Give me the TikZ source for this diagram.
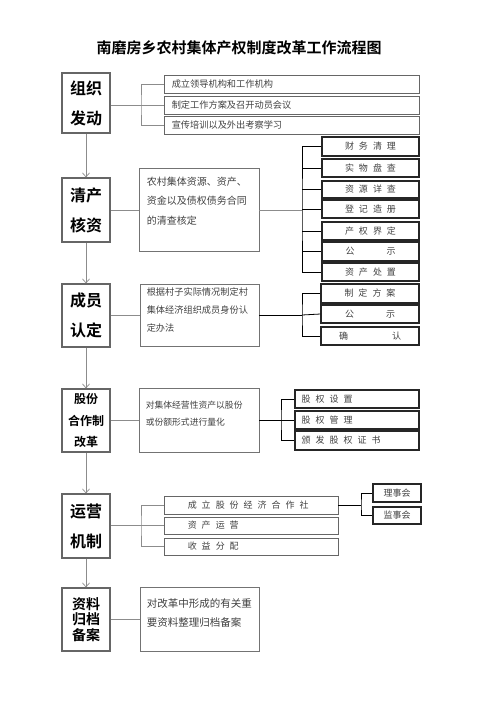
\documentclass[tikz,border=0pt]{standalone}
\usepackage{fontspec}
\setmainfont{Noto Sans CJK SC}[BoldFont={Noto Sans CJK SC Bold}]
\usetikzlibrary{arrows.meta}
\newcommand\chgap[1][5]{\hspace{#1pt}}
\newcommand\bx[6]{\node[#1, minimum width={(#4-#2)*1pt}, minimum height={(#5-#3)*1pt}] (#6) at ({(#2+#4)/2},{(#3+#5)/2})}
\begin{document}
\begin{tikzpicture}[x=1pt,y=-1pt,
  gline/.style={draw=black!45, line width=0.7pt},
  kline/.style={draw=black, line width=0.8pt},
  arr/.style={gline, -{Straight Barb[length=4pt,width=7pt]}},
  lbox/.style={draw=black!60, line width=1.1pt, fill=white, inner sep=0pt, align=center, font=\bfseries\fontsize{16}{30}\selectfont},
  mbox/.style={draw=black!55, line width=0.9pt, inner sep=0pt},
  tbox/.style={draw=black!60, line width=0.9pt, inner sep=0pt},
  rbox/.style={draw=black!85, line width=1.1pt, inner sep=0pt, font=\fontsize{9}{9}\selectfont, text=black!75},
  ttext/.style={anchor=west, inner sep=0pt, text=black!75, font=\fontsize{9.2}{9.2}\selectfont},
  mtext/.style={anchor=north west, inner sep=0pt, align=left, text=black!75}
]
\useasboundingbox (0,0) rectangle (496,702);

% title
\node[font=\bfseries\fontsize{15}{15}\selectfont] (title) at (239,48) {南磨房乡农村集体产权制度改革工作流程图};

% ---- section 1
\bx{lbox}{62}{73}{110}{133}{L1} {组织\\发动};
\bx{tbox,label={[ttext,xshift=8pt]west:成立领导机构和工作机构}}{164}{75}{419}{93}{R11} {};
\bx{tbox,label={[ttext,xshift=8pt]west:制定工作方案及召开动员会议}}{164}{96}{419}{114}{R12} {};
\bx{tbox,label={[ttext,xshift=8pt]west:宣传培训以及外出考察学习}}{164}{116}{419}{134}{R13} {};
\coordinate (j1) at (141,105);
\draw[gline] (L1.east |- j1) -- (j1);
\draw[gline] (R11.west) -| (j1) |- (R13.west);
\draw[gline] (j1) -- (R12.west);

% ---- section 2
\bx{lbox}{62}{178}{110}{242}{L2} {清产\\核资};
\bx{mbox,label={[mtext,xshift=8pt,yshift=-9pt,font=\fontsize{10}{19.5}\selectfont]north west:农村集体资源、资产、\\资金以及债权债务合同\\的清查核定}}{139}{168}{259}{251}{M2} {};
\bx{rbox}{322}{137}{419}{156}{R21} {财\chgap 务\chgap 清\chgap 理};
\bx{rbox}{322}{159}{419}{177}{R22} {实\chgap 物\chgap 盘\chgap 查};
\bx{rbox}{322}{181}{419}{198}{R23} {资\chgap 源\chgap 详\chgap 查};
\bx{rbox}{322}{200}{419}{218}{R24} {登\chgap 记\chgap 造\chgap 册};
\bx{rbox}{322}{222}{419}{240}{R25} {产\chgap 权\chgap 界\chgap 定};
\bx{rbox}{322}{242}{419}{261}{R26} {公\chgap[32]示};
\bx{rbox}{322}{263}{419}{281}{R27} {资\chgap 产\chgap 处\chgap 置};
\draw[gline] (L2.east) -- (L2.east -| M2.west);
\coordinate (j2) at (302,210);
\draw[gline] (M2.east |- j2) -- (j2);
\draw[kline] (R21.west) -| (j2) |- (R27.west);
\foreach \n in {2,...,6} \draw[kline] (R2\n.west -| j2) -- (R2\n.west);

% ---- section 3
\bx{lbox}{62}{284}{110}{347}{L3} {成员\\认定};
\bx{mbox,label={[mtext,xshift=7pt,yshift=-4pt,font=\fontsize{9.2}{18}\selectfont]north west:根据村子实际情况制定村\\集体经济组织成员身份认\\定办法}}{140}{284}{259}{346}{M3} {};
\bx{rbox}{321}{284}{419}{303}{R31} {制\chgap 定\chgap 方\chgap 案};
\bx{rbox}{321}{305}{419}{323}{R32} {公\chgap[32]示};
\bx{rbox}{321}{327}{419}{345}{R33} {确\chgap[44]认};
\draw[gline] (L3.east) -- (L3.east -| M3.west);
\coordinate (j3) at (302,315);
\draw[kline] (M3.east |- j3) -- (j3);
\draw[kline] (R31.west) -| (j3) |- (R33.west);
\draw[kline] (j3) -- (R32.west);

% ---- section 4
\bx{lbox,font=\bfseries\fontsize{12}{21.5}\selectfont}{62}{389}{110}{452}{L4} {股份\\合作制\\改革};
\bx{mbox,label={[mtext,xshift=7pt,yshift=-13pt,font=\fontsize{8.8}{17}\selectfont]north west:对集体经营性资产以股份\\或份额形式进行量化}}{139}{388}{259}{452}{M4} {};
\bx{rbox,label={[ttext,xshift=7pt,font=\fontsize{9}{9}\selectfont]west:股\chgap 权\chgap 设\chgap 置}}{295}{390}{419}{408}{R41} {};
\bx{rbox,label={[ttext,xshift=7pt,font=\fontsize{9}{9}\selectfont]west:股\chgap 权\chgap 管\chgap 理}}{295}{411}{419}{429}{R42} {};
\bx{rbox,label={[ttext,xshift=7pt,font=\fontsize{9}{9}\selectfont]west:颁\chgap 发\chgap 股\chgap 权\chgap 证\chgap 书}}{295}{431}{419}{450}{R43} {};
\draw[gline] (L4.east) -- (L4.east -| M4.west);
\coordinate (j4) at (281,420);
\draw[kline] (M4.east |- j4) -- (j4);
\draw[kline] (R41.west) -| (j4) |- (R43.west);
\draw[kline] (j4) -- (R42.west);

% ---- section 5
\bx{lbox}{62}{494}{110}{558}{L5} {运营\\机制};
\bx{tbox,label={[ttext,xshift=24pt,font=\fontsize{9}{9}\selectfont]west:成\chgap 立\chgap 股\chgap 份\chgap 经\chgap 济\chgap 合\chgap 作\chgap 社}}{164}{496}{338}{514}{R51} {};
\bx{tbox,label={[ttext,xshift=24pt,font=\fontsize{9}{9}\selectfont]west:资\chgap 产\chgap 运\chgap 营}}{164}{517}{338}{534}{R52} {};
\bx{tbox,label={[ttext,xshift=24pt,font=\fontsize{9}{9}\selectfont]west:收\chgap 益\chgap 分\chgap 配}}{164}{538}{338}{555}{R53} {};
\bx{rbox}{373}{484}{421}{502}{S1} {理事会};
\bx{rbox}{373}{507}{421}{524}{S2} {监事会};
\coordinate (j5) at (141,525.5);
\draw[gline] (L5.east |- j5) -- (j5);
\draw[gline] (R51.west) -| (j5) |- (R53.west);
\draw[gline] (j5) -- (R52.west);
\coordinate (j6) at (361,505);
\draw[kline] (R51.east) -- (j6);
\draw[kline] (S1.west) -| (j6) |- (S2.west);

% ---- section 6
\bx{lbox,font=\bfseries\fontsize{14}{15.5}\selectfont}{62}{588}{110}{651}{L6} {资料\\归档\\备案};
\bx{mbox,label={[mtext,xshift=7pt,yshift=-12pt,font=\fontsize{10.5}{19}\selectfont]north west:对改革中形成的有关重\\要资料整理归档备案}}{140}{587}{259}{651}{M6} {};
\draw[gline] (L6.east) -- (L6.east -| M6.west);

% ---- vertical arrows
\draw[arr] (L1.south) -- (L2.north);
\draw[arr] (L2.south) -- (L3.north);
\draw[arr] (L3.south) -- (L4.north);
\draw[arr] (L4.south) -- (L5.north);
\draw[arr] (L5.south) -- (L6.north);
\end{tikzpicture}
\end{document}
